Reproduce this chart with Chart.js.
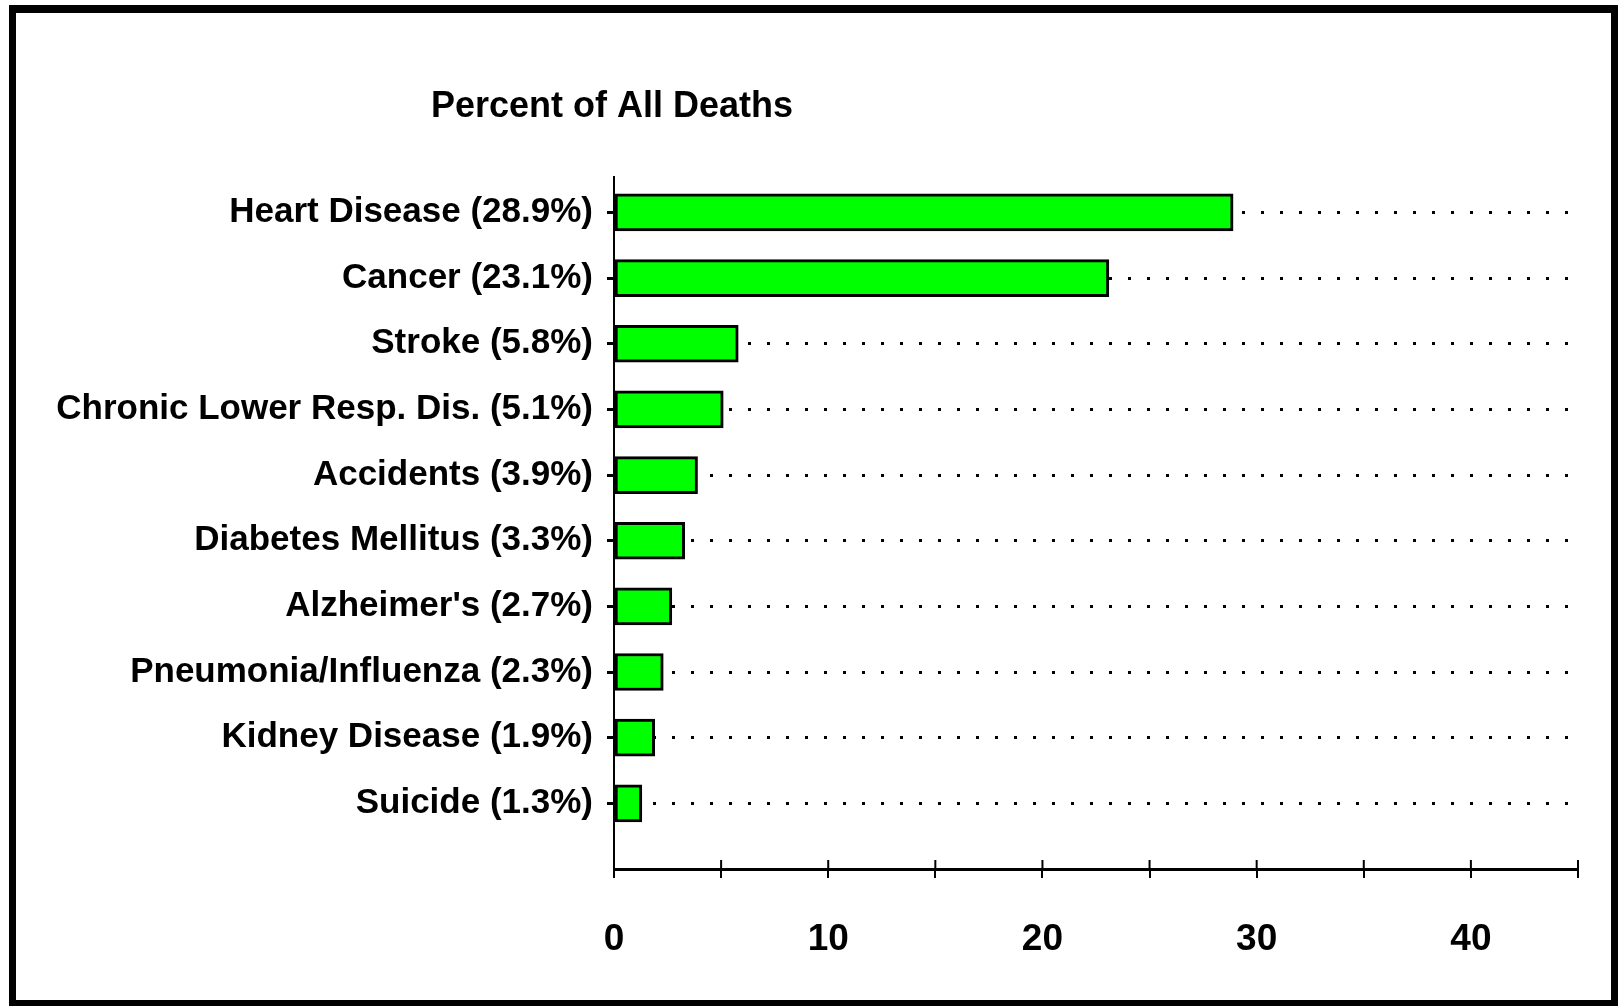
<!DOCTYPE html>
<html>
<head>
<meta charset="utf-8">
<title>Percent of All Deaths</title>
<script src="https://cdn.jsdelivr.net/npm/chart.js@4"></script>
<style>
    body { margin: 0; background: #fff; }
    canvas { display: block; }
</style>
</head>
<body>
<canvas id="myChart" width="1618" height="1006"></canvas>
<script>
// data
const causes = ['Heart Disease', 'Cancer', 'Stroke', 'Chronic Lower Resp. Dis.', 'Accidents', 'Diabetes Mellitus', "Alzheimer's", 'Pneumonia/Influenza', 'Kidney Disease', 'Suicide']
const percents = [28.9, 23.1, 5.8, 5.1, 3.9, 3.3, 2.7, 2.3, 1.9, 1.3]
const xTicks = [0, 10, 20, 30, 40]
const chartTitle = 'Percent of All Deaths'

const labels = causes.map((c, i) => c + ' (' + percents[i].toFixed(1) + '%)')

Chart.defaults.font.family = "'Liberation Sans', Arial, sans-serif"
Chart.defaults.font.weight = 'bold'
Chart.defaults.color = '#000'

// frame, title and the little tick marks above the x axis
const extras = {
    id: 'extras',
    beforeDraw(chart) {
        const c = chart.ctx
        c.save()
        c.fillStyle = '#fff'
        c.fillRect(0, 0, chart.width, chart.height)
        c.restore()
    },
    afterDraw(chart) {
        const c = chart.ctx
        const x = chart.scales.x
        const area = chart.chartArea
        c.save()
        c.fillStyle = '#000'
        c.fillRect(9, 5, 7, 1001)
        c.fillRect(9, 5, 1609, 8)
        c.fillRect(1611, 5, 7, 1001)
        c.fillRect(9, 1000, 1609, 6)

        c.font = "bold 36px 'Liberation Sans', Arial, sans-serif"
        c.textBaseline = 'alphabetic'
        c.fillText(chartTitle, 431, 117)

        c.strokeStyle = '#000'
        c.lineWidth = 2
        x.ticks.forEach(t => {
            const px = x.getPixelForValue(t.value)
            c.beginPath()
            c.moveTo(px, area.bottom - 9)
            c.lineTo(px, area.bottom)
            c.stroke()
        })
        c.restore()
    }
}

const ctx = document.getElementById('myChart').getContext('2d')

let data = {
    datasets: [{
        data: percents.map((v, i) => ({ x: v, y: i })),
        backgroundColor: '#00ff00',
        borderColor: '#000',
        borderWidth: 3,
        borderSkipped: false,
        barThickness: 37
    }]
}

let options = {
    responsive: false,
    animation: false,
    indexAxis: 'y',
    layout: {
        padding: { top: 177, right: 40, bottom: 0, left: 14 }
    },
    plugins: {
        legend: { display: false },
        tooltip: { enabled: false },
        title: { display: false }
    },
    scales: {
        x: {
            type: 'linear',
            min: 0,
            max: 45,
            afterFit: (scale) => { scale.height = 137 },
            ticks: {
                stepSize: 5,
                autoSkip: false,
                maxRotation: 0,
                padding: 40,
                font: { size: 37, weight: 'bold' },
                callback: (v) => xTicks.includes(v) ? v : ''
            },
            grid: {
                drawOnChartArea: false,
                drawTicks: true,
                tickLength: 9,
                color: '#000',
                lineWidth: 2
            },
            border: { display: true, color: '#000', width: 3 }
        },
        y: {
            type: 'linear',
            reverse: true,
            offset: false,
            min: -0.54,
            max: 10,
            afterFit: (scale) => { scale.width = 600 },
            afterBuildTicks: (scale) => {
                scale.ticks = causes.map((c, i) => ({ value: i }))
            },
            ticks: {
                autoSkip: false,
                padding: 14,
                font: { size: 35, weight: 'bold' },
                callback: (v) => labels[v]
            },
            grid: {
                offset: false,
                drawOnChartArea: true,
                drawTicks: true,
                tickLength: 7,
                color: '#000',
                lineWidth: 3
            },
            border: { display: true, color: '#000', width: 2, dash: [3, 16] }
        }
    }
}

let myChart = new Chart(ctx, {
    type: 'bar',
    data: data,
    options: options,
    plugins: [extras]
})
</script>
</body>
</html>
